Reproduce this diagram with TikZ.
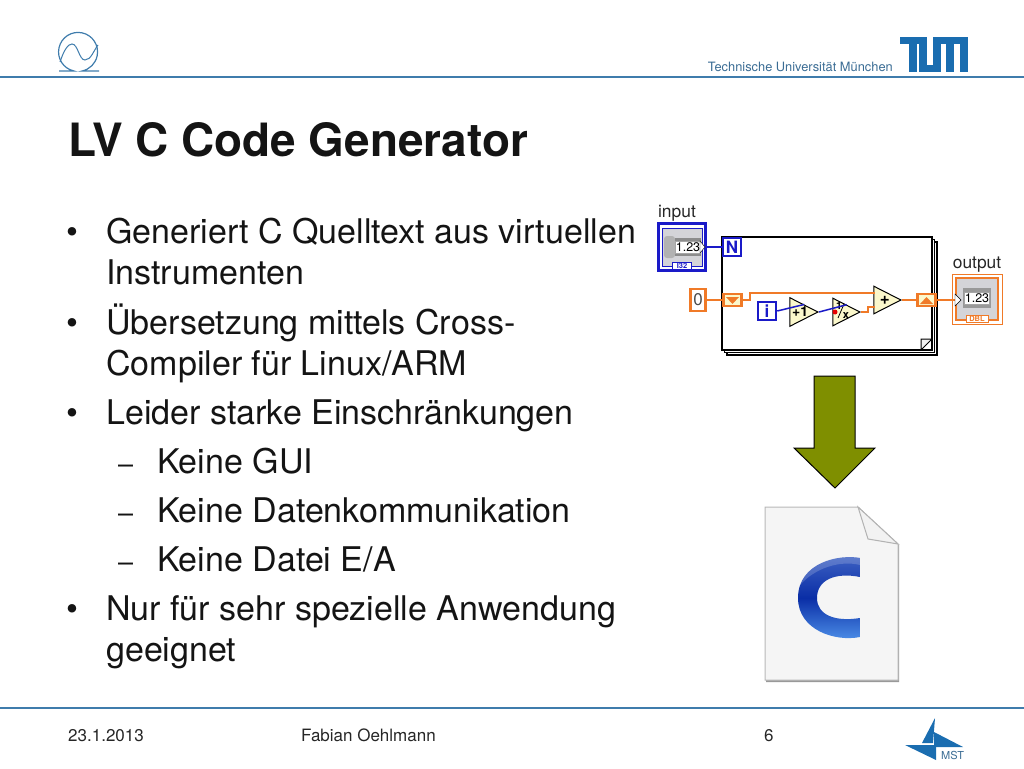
\documentclass[tikz,border=0pt]{standalone}
\usepackage{fontspec}
\setmainfont{TeX Gyre Heros}
\usetikzlibrary{shapes.geometric}

\definecolor{tumblue}{HTML}{1A6DB0}
\definecolor{ruleblue}{HTML}{3F7CAC}
\definecolor{headtext}{HTML}{3A6C94}
\definecolor{wireblue}{HTML}{1A1AC8}
\definecolor{wireorange}{HTML}{F07A28}
\definecolor{primcream}{HTML}{FBF8CC}
\definecolor{panelgray}{HTML}{D4D4D8}
\definecolor{arrowolive}{HTML}{7F8F00}
\definecolor{cdark}{HTML}{0A2EA6}
\definecolor{ctop}{HTML}{3F63C4}
\definecolor{cbottom}{HTML}{4F92EA}

\tikzset{
  bodytext/.style={anchor=base west, inner sep=0pt, text=black!92, font=\fontsize{34}{36}\selectfont},
  dashtext/.style={anchor=base west, inner sep=0pt, text=black!92, font=\fontsize{27}{36}\selectfont},
  titletext/.style={anchor=base west, inner sep=0pt, text=black!92, font=\fontsize{45.9}{50}\selectfont\bfseries},
  foottext/.style={anchor=base west, inner sep=0pt, text=black!85, font=\fontsize{17}{20}\selectfont},
  labeltext/.style={inner sep=0pt, text=black!85, font=\fontsize{17.4}{18}\selectfont},
  termblue/.style={draw=wireblue, line width=2.5pt, fill=white, minimum size=18pt, inner sep=0pt, text=wireblue, font=\fontsize{17}{16}\selectfont\bfseries},
  termorange/.style={draw=wireorange, line width=2.5pt, fill=white, inner sep=0pt, text=black!70, font=\fontsize{17}{16}\selectfont},
  shiftreg/.style={draw=wireorange, line width=2.5pt, fill=primcream, minimum width=18pt, minimum height=12pt, inner sep=0pt},
  prim/.style={isosceles triangle, isosceles triangle apex angle=54, draw=black, line width=1pt, fill=primcream, inner sep=0pt, minimum height=27pt, anchor=apex, font=\fontsize{14}{14}\selectfont\bfseries},
  wireb/.style={draw=wireblue, line width=1.5pt},
  wireo/.style={draw=wireorange, line width=1.5pt},
  numbox/.style={draw=black!35, line width=1pt, fill=white, inner sep=0pt, minimum height=12pt, font=\fontsize{12.5}{14}\selectfont},
}

\begin{document}
\begin{tikzpicture}[x=1pt, y=-1pt]
  \useasboundingbox (0,0) rectangle (1024,768);

  % Header and footer rules
  \draw[ruleblue, line width=1.5pt] (0,77) -- (1024,77);
  \draw[ruleblue, line width=1.5pt] (0,708) -- (1024,708);

  % Omega logo
  \draw[ruleblue, line width=1.2pt] (59,71) -- (74,71) arc[start angle=102, end angle=438, radius=19.5] -- (99,71);
  \draw[ruleblue, line width=1pt] (60,62) .. controls (64,50) and (68,44) .. (72,44) .. controls (78,44) and (79,60) .. (85,60) .. controls (91,60) and (94,50) .. (98,45);

  % TUM logo
  \fill[tumblue] (900,37) rectangle (927,44);
  \fill[tumblue] (933,37) rectangle (968,44);
  \foreach \x in {909,919,933,946,960} {
      \fill[tumblue] (\x,37) rectangle (\x+7.5,72);
  }
  \fill[tumblue] (919,65) rectangle (940,72);
  \node[anchor=base east, inner sep=0pt, text=headtext, font=\fontsize{12.85}{15}\selectfont] (uni) at (893,71) {Technische Universität München};

  % MST logo
  \fill[tumblue] (935,718) -- (922,743) -- (933,743) -- cycle;
  \fill[tumblue] (934,732) -- (963,747) -- (934,747) -- cycle;
  \fill[tumblue] (905,745) -- (936,745) -- (936,760) -- cycle;
  \node[anchor=base west, inner sep=0pt, text=headtext, font=\fontsize{11}{11}\selectfont] (mst) at (941,759) {MST};

  % Title and text
  \node[titletext] (title) at (68,156) {LV C Code Generator};

  \foreach \y in {243,334,424,620} {
      \node[bodytext] at (66,\y) {•};
  }
  \foreach \y in {473,522,571} {
      \node[dashtext] at (118,\y) {–};
  }
  \node[bodytext] (line1) at (106,243) {Generiert C Quelltext aus virtuellen};
  \node[bodytext] (line2) at (106,284) {Instrumenten};
  \node[bodytext] (line3) at (106,334) {Übersetzung mittels Cross-};
  \node[bodytext] (line4) at (106,375) {Compiler für Linux/ARM};
  \node[bodytext] (line5) at (106,424) {Leider starke Einschränkungen};
  \node[bodytext] (line6) at (157,473) {Keine GUI};
  \node[bodytext] (line7) at (157,522) {Keine Datenkommunikation};
  \node[bodytext] (line8) at (157,571) {Keine Datei E/A};
  \node[bodytext] (line9) at (106,620) {Nur für sehr spezielle Anwendung};
  \node[bodytext] (line10) at (106,661) {geeignet};

  % Footer
  \node[foottext] (date) at (68,741) {23.1.2013};
  \node[foottext] (name) at (301,741) {Fabian Oehlmann};
  \node[foottext] (page) at (764,741) {6};

  % Loop frames, back to front
  \foreach \d in {5,2.5,0} {
      \draw[black, line width=1.2pt, fill=white] (722+\d,237+\d) rectangle (932+\d,350+\d);
  }
  \draw[black, line width=1pt, fill=black!6] (921,350) -- (921,339) -- (932,339) -- cycle;

  % Input terminal
  \node[labeltext] (inlabel) at (677,213) {input};
  \draw[wireblue, line width=3pt] (658.5,223.5) rectangle (705.5,270.5);
  \draw[wireblue, line width=1pt, fill=panelgray] (662,228) rectangle (702,266);
  \fill[black!30, rounded corners=3pt] (664,236) rectangle (675,258);
  \fill[black!45] (675,238) rectangle (701,256);
  \node[numbox, minimum width=24pt] (inval) at (688,247) {1.23};
  \node[draw=wireblue, line width=1pt, fill=white, inner sep=0pt, minimum width=19pt, minimum height=7pt, text=wireblue, font=\fontsize{7.5}{7}\selectfont\bfseries] (intag) at (682,266) {I32};

  % Output terminal
  \node[labeltext] (outlabel) at (977,265) {output};
  \draw[wireorange, line width=.8pt] (952,274) rectangle (1002,324);
  \draw[wireorange, line width=1.2pt, fill=panelgray] (956,278) rectangle (998,320);
  \fill[black!40] (963,288) rectangle (991,308);
  \node[numbox, minimum width=24pt] (outval) at (977,298) {1.23};
  \node[draw=wireorange, line width=1pt, fill=white, inner sep=0pt, minimum width=22pt, minimum height=7pt, text=wireorange, font=\fontsize{7.5}{7}\selectfont\bfseries] (outtag) at (977,319) {DBL};

  % Terminals and primitives in the loop
  \node[termblue] (count) at (732,247) {N};
  \node[termblue] (iter) at (767,311) {i};
  \node[termorange, minimum width=15pt, minimum height=22pt] (zero) at (698,300) {0};
  \node[shiftreg] (srin) at (732.5,300) {};
  \node[shiftreg] (srout) at (926.5,300) {};
  \fill[wireorange] (726,297) -- (739,297) -- (732.5,304) -- cycle;
  \fill[wireorange] (920,304) -- (933,304) -- (926.5,297) -- cycle;
  \node[prim] (incr) at (819,312) {\,+1};
  \node[prim] (invert) at (861,312) {};
  \node[prim, font=\fontsize{17}{17}\selectfont\bfseries] (add) at (902,300) {\;+};
  \node[inner sep=0pt, font=\fontsize{10.5}{11}\selectfont\bfseries] (invone) at (839,306) {1};
  \node[inner sep=0pt, font=\fontsize{11}{11}\selectfont\bfseries] (invx) at (846,316) {x};
  \coordinate (slashtop) at (844,304);
  \coordinate (slashlow) at (838,318);
  \draw[black, line width=.8pt] (slashtop) -- (slashlow);
  \coordinate (addtop) at (875,293);
  \coordinate (addlow) at (875,307);
  \coordinate (outin) at (955,300);

  % Wires
  \draw[wireb] (inval.east) -- (count.west);
  \draw[wireb] (iter.east) -- (incr.left side);
  \draw[wireb] (incr.apex) -- (invert.left side);
  \fill[red!90!black] (835,312) circle (2.5);
  \draw[wireo] (zero.east) -- (srin.west);
  \draw[wireo] (srin.east) -- ++(7,0) |- (addtop);
  \draw[wireo] (invert.apex) -- ++(7,0) |- (addlow);
  \draw[wireo] (add.apex) -- (srout.west);
  \draw[wireo] (srout.east) -- (outin);

  % Connector tips on the terminals
  \draw[black, fill=white] (700,241) -- (705,247) -- (700,253) -- cycle;
  \draw[black, fill=white] (955,294) -- (961,300) -- (955,306) -- cycle;

  % Block arrow
  \draw[black, line width=1pt, fill=arrowolive] (814,376) -- (855,376) -- (855,448) -- (875,448) -- (835,488) -- (794,448) -- (814,448) -- cycle;

  % C source file
  \fill[black!40] (766,510) -- (899,545) -- (899,682) -- (766,682) -- cycle;
  \draw[black!28, line width=1pt, fill=black!4] (765,507) -- (858,507) -- (898,544) -- (898,680) -- (765,680) -- cycle;
  \draw[black!30, line width=1pt, fill=black!5] (858,507) -- (868,539) -- (898,544) -- cycle;
  \shade[top color=ctop, bottom color=cbottom, middle color=cdark]
    (860,558) .. controls (840,554) and (798,562) .. (798,598)
    .. controls (798,630) and (835,642) .. (860,637)
    -- (860,618) .. controls (835,622) and (817,615) .. (817,598)
    .. controls (817,580) and (835,572) .. (860,577) -- cycle;
  \fill[white, opacity=.18] (860,558) .. controls (840,554) and (806,562) .. (800,585) .. controls (815,568) and (840,560) .. (860,565) -- cycle;
\end{tikzpicture}
\end{document}
